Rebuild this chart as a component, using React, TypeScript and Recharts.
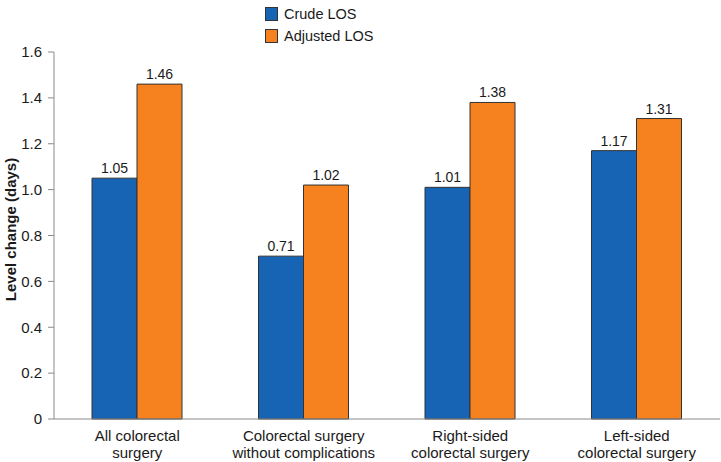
import { BarChart, Bar, XAxis, YAxis, Legend, LabelList } from "recharts";

const categories = [
  ["All colorectal", "surgery"],
  ["Colorectal surgery", "without complications"],
  ["Right-sided", "colorectal surgery"],
  ["Left-sided", "colorectal surgery"],
];
const crudeLos = [1.05, 0.71, 1.01, 1.17];
const adjustedLos = [1.46, 1.02, 1.38, 1.31];
const yTicks = [0, 0.2, 0.4, 0.6, 0.8, 1.0, 1.2, 1.4, 1.6];

const BLUE = "#1764B4";
const ORANGE = "#F5821F";
const FONT = "'Liberation Sans', Arial, Helvetica, sans-serif";

const data = categories.map((c, i) => ({
  name: c.join("\n"),
  crude: crudeLos[i],
  adjusted: adjustedLos[i],
}));

const fmtY = (v: number) => (v === 0 ? "0" : v.toFixed(1));

function XTick({ x, y, payload }: any) {
  const lines = String(payload.value).split("\n");
  return (
    <text x={x} y={y} textAnchor="middle" fill="#1a1a1a" fontSize={15} fontFamily={FONT}>
      {lines.map((l, i) => (
        <tspan key={i} x={x} dy={i === 0 ? 14 : 17}>
          {l}
        </tspan>
      ))}
    </text>
  );
}

function YLabel({ viewBox }: any) {
  const cy = viewBox.y + viewBox.height / 2 - 6;
  return (
    <text
      x={10}
      y={cy}
      transform={`rotate(-90, 10, ${cy})`}
      textAnchor="middle"
      dominantBaseline="central"
      fontWeight="bold"
      fontSize={15}
      fontFamily={FONT}
      fill="#1a1a1a"
    >
      Level change (days)
    </text>
  );
}

function LegendBox() {
  const items = [
    { label: "Crude LOS", color: BLUE },
    { label: "Adjusted LOS", color: ORANGE },
  ];
  return (
    <div style={{ fontFamily: FONT, fontSize: 14.5, color: "#1a1a1a" }}>
      {items.map((it) => (
        <div key={it.label} style={{ display: "flex", alignItems: "center", height: 22 }}>
          <span
            style={{
              display: "inline-block",
              width: 11,
              height: 12,
              background: it.color,
              border: "1px solid #333",
              marginRight: 6,
            }}
          />
          {it.label}
        </div>
      ))}
    </div>
  );
}

export default function App() {
  return (
    <div style={{ position: "absolute", top: 0, left: 0, background: "#fff" }}>
      <BarChart
        width={721}
        height={462}
        data={data}
        margin={{ top: 8, right: 1, bottom: 0, left: 0 }}
        barCategoryGap={38}
        barGap={0}
      >
        <XAxis
          dataKey="name"
          axisLine={{ stroke: "#8a8a8a" }}
          tickLine={false}
          height={43}
          interval={0}
          tick={<XTick />}
        />
        <YAxis
          domain={[0, 1.6]}
          ticks={yTicks}
          tickFormatter={fmtY}
          width={54}
          axisLine={{ stroke: "#8a8a8a" }}
          tickLine={{ stroke: "#8a8a8a" }}
          tickSize={6}
          tickMargin={6}
          tick={{ fill: "#1a1a1a", fontSize: 15, fontFamily: FONT }}
          label={<YLabel />}
        />
        <Legend
          verticalAlign="top"
          content={<LegendBox />}
          wrapperStyle={{ position: "absolute", top: 3, left: 265, width: 160 }}
        />
        <Bar dataKey="crude" fill={BLUE} stroke="#333" strokeWidth={1} isAnimationActive={false}>
          <LabelList dataKey="crude" position="top" offset={5} formatter={(v: any) => Number(v).toFixed(2)} style={{ fill: "#1a1a1a", fontSize: 14, fontFamily: FONT }} />
        </Bar>
        <Bar dataKey="adjusted" fill={ORANGE} stroke="#333" strokeWidth={1} isAnimationActive={false}>
          <LabelList dataKey="adjusted" position="top" offset={5} formatter={(v: any) => Number(v).toFixed(2)} style={{ fill: "#1a1a1a", fontSize: 14, fontFamily: FONT }} />
        </Bar>
      </BarChart>
    </div>
  );
}
